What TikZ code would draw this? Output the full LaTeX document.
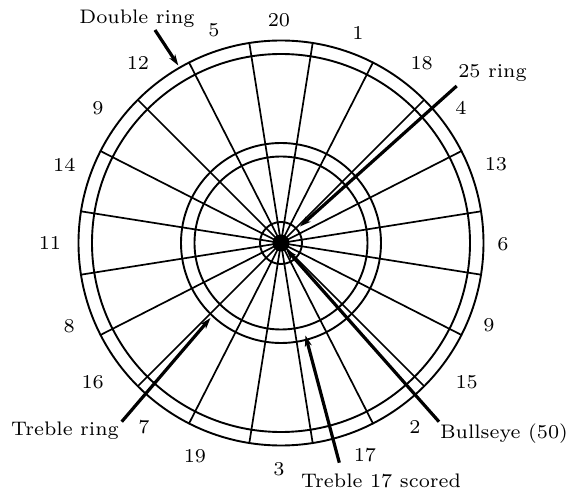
\documentclass[tikz,border=0pt]{standalone}
\usetikzlibrary{arrows.meta}
\begin{document}
\begin{tikzpicture}[x=1pt,y=1pt,
  ringline/.style={line width=1.9pt},
  spoke/.style={line width=1.7pt},
  lbl/.style={inner sep=0pt,scale=2.8,font=\fontsize{7}{8.4}\selectfont},
  pointer/.style={line width=3.2pt,-{Stealth[length=11pt,width=7pt,inset=3pt]}}]
\useasboundingbox (-281,-247) rectangle (290,243);
% board
\foreach \a in {0,...,19} \draw[spoke] (0,0) -- ({9+18*\a}:202.5);
\draw[ringline] (0,0) circle (202.5);
\draw[ringline] (0,0) circle (189);
\draw[ringline] (0,0) circle (100);
\draw[ringline] (0,0) circle (86.5);
\draw[ringline] (0,0) circle (21);
\fill (0,0) circle (8.5);
% numbers
\node[lbl] (n5) at (-67,213) {5};
\node[lbl] (n20) at (-2,222.5) {20};
\node[lbl] (n1) at (77,210) {1};
\node[lbl] (n18) at (140.7,180.3) {18};
\node[lbl] (n4) at (180,135) {4};
\node[lbl] (n13) at (215,79) {13};
\node[lbl] (n6) at (222,-1) {6};
\node[lbl] (n9r) at (208,-82) {9};
\node[lbl] (n15) at (185.7,-138.7) {15};
\node[lbl] (n2) at (134,-183.7) {2};
\node[lbl] (n17) at (84,-212) {17};
\node[lbl] (n3) at (-2,-226) {3};
\node[lbl] (n19) at (-86,-213) {19};
\node[lbl] (n7) at (-137,-183.7) {7};
\node[lbl] (n16) at (-188.3,-138.7) {16};
\node[lbl] (n8) at (-211.7,-83) {8};
\node[lbl] (n11) at (-231,0) {11};
\node[lbl] (n14) at (-216.7,78) {14};
\node[lbl] (n9l) at (-183,135) {9};
\node[lbl] (n12) at (-143,180.3) {12};
% annotations
\node[lbl] (tdouble) at (-144,224.5) {Double ring};
\node[lbl] (t25) at (211.5,170) {25 ring};
\node[lbl] (ttreble) at (-216,-188) {Treble ring};
\node[lbl] (tbull) at (223,-190.5) {Bullseye (50)};
\node[lbl] (tt17) at (100,-238) {Treble 17 scored};
\coordinate (sdouble) at (-126,213);
\coordinate (edouble) at (-102.7,177.5);
\coordinate (s25) at (175.7,157);
\coordinate (e25) at (19,16.5);
\coordinate (streble) at (-159.3,-178.7);
\coordinate (etreble) at (-70.5,-75);
\coordinate (sbull) at (158,-178.7);
\coordinate (ebull) at (5,-6);
\coordinate (st17) at (58.3,-219.7);
\coordinate (et17) at (24.5,-92.5);
\draw[pointer] (sdouble) -- (edouble);
\draw[pointer] (s25) -- (e25);
\draw[pointer] (streble) -- (etreble);
\draw[pointer] (sbull) -- (ebull);
\draw[pointer] (st17) -- (et17);
\end{tikzpicture}
\end{document}
